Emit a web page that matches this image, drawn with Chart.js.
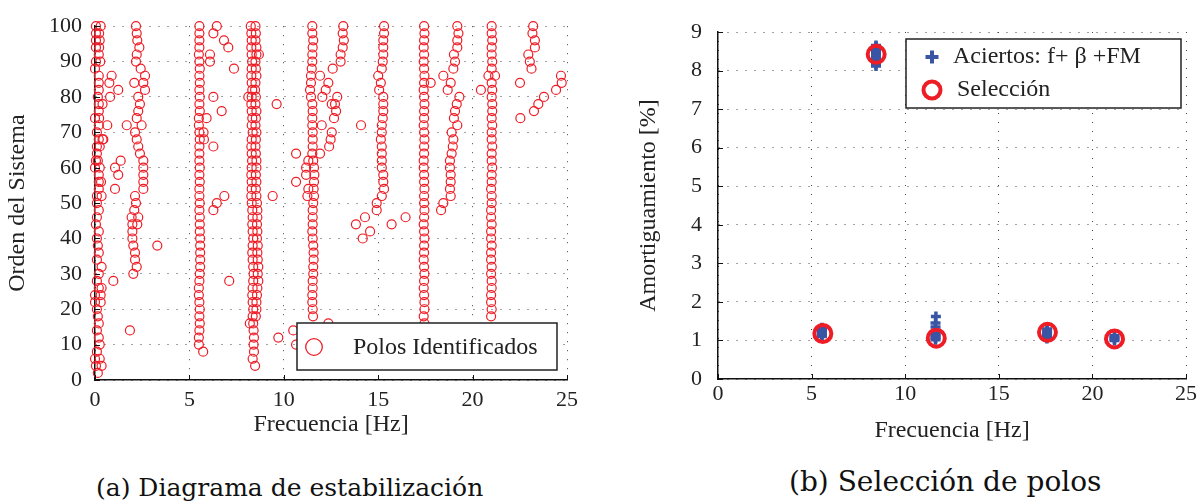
<!DOCTYPE html>
<html lang="es">
<head>
<meta charset="utf-8">
<title>Diagrama de estabilización y selección de polos</title>
<script src="https://cdn.jsdelivr.net/npm/chart.js@4.4.0/dist/chart.umd.min.js"></script>
<style>
  html, body { margin: 0; padding: 0; background: #fff; }
  body { width: 1203px; height: 502px; position: relative; overflow: hidden; }
  canvas { position: absolute; top: 0; }
  #estabilizacion { left: 0; }
  #seleccion { left: 600px; }
  .pie { position: absolute; font-family: "DejaVu Serif", serif; color: #111; white-space: nowrap; line-height: 30px; }
  #pieA { left: 96px; top: 473px; font-size: 25px; }
  #pieB { left: 789px; top: 467px; font-size: 28px; }
</style>
</head>
<body>
<canvas id="estabilizacion" width="600" height="460"></canvas>
<canvas id="seleccion" width="603" height="460"></canvas>
<div class="pie" id="pieA">(a) Diagrama de estabilización</div>
<div class="pie" id="pieB">(b) Selección de polos</div>
<script>
// Órdenes del sistema, de arriba a abajo
const ordenes = [100, 98, 96, 94, 92, 90, 88, 86, 84, 82, 80, 78, 76, 74, 72, 70, 68, 66, 64, 62,
  60, 58, 56, 54, 52, 50, 48, 46, 44, 42, 40, 38, 36, 34, 32, 30, 28, 26, 24, 22,
  20, 18, 16, 14, 12, 10, 8, 6, 4, 2];

// Frecuencia [Hz] de cada columna de polos, una por orden (null = no aparece)
const frecCero = [0.05, 0.05, 0.05, 0.05, 0.20, 0.05, 0.00, 0.20, 0.20, 0.20,
  0.15, 0.20, 0.20, 0.00, 0.20, 0.10, 0.20, 0.10, 0.10, 0.05,
  0.00, 0.20, 0.20, 0.20, 0.10, 0.10, 0.20, 0.10, 0.05, 0.20,
  0.10, 0.15, 0.20, 0.10, 0.35, 0.20, 0.10, 0.20, 0.00, 0.00,
  0.10, 0.15, 0.20, 0.10, 0.20, 0.25, 0.10, 0.00, 0.05, 0.15];
const frecCeroB = [0.30, 0.22, 0.25, 0.22, null, 0.28, null, null, null, null,
  null, 0.40, null, 0.22, null, null, 0.40, 0.25, null, 0.15,
  0.25, null, 0.32, null, 0.35, null, null, null, null, null,
  null, null, null, null, null, null, null, 0.35, 0.30, 0.30,
  null, null, null, null, null, null, null, 0.25, 0.35];
const frecModo2 = [2.17, 2.21, 2.24, 2.35, 2.21, 2.17, 2.42, 2.65, 2.56, 2.65,
  2.29, 2.38, 2.29, 2.21, 2.47, 2.12, 2.21, 2.29, 2.38, 2.56,
  2.56, 2.56, 2.56, 2.56, 2.12, 2.17, 2.08, 1.94, 1.98, 1.98,
  1.98, 2.03, 2.12, 2.12, 2.21, 2.03];
const frecModo5 = [5.53, 5.53, 5.53, 5.53, 5.50, 5.53, 5.55, 5.53, 5.55, 5.53,
  5.55, 5.53, 5.55, 5.50, 5.50, 5.53, 5.55, 5.53, 5.53, 5.53,
  5.55, 5.53, 5.55, 5.53, 5.53, 5.55, 5.53, 5.55, 5.55, 5.55,
  5.57, 5.57, 5.57, 5.57, 5.57, 5.55, 5.53, 5.50, 5.50, 5.53,
  5.55, 5.53, 5.55, 5.53, 5.50, 5.50, 5.73];
const frecModo8a = [8.25, 8.28, 8.30, 8.28, 8.30, 8.32, 8.30, 8.28, 8.30, 8.33,
  8.30, 8.28, 8.30, 8.33, 8.30, 8.35, 8.30, 8.28, 8.30, 8.32,
  8.30, 8.28, 8.30, 8.30, 8.28, 8.30, 8.33, 8.35, 8.33, 8.35,
  8.38, 8.35, 8.33, 8.35, 8.38, 8.40, 8.38, 8.35, 8.33, 8.35,
  8.38, 8.35, 8.38, 8.40, 8.42, 8.40, 8.42, 8.35, 8.48];
const frecModo8b = [8.50, 8.52, 8.50, 8.55, 8.55, 8.50, 8.52, 8.55, 8.50, 8.48,
  8.52, 8.50, 8.55, 8.52, 8.50, 8.55, 8.52, 8.50, 8.52, 8.55,
  8.55, 8.52, 8.55, 8.52, 8.55, 8.58, 8.60, 8.60, 8.58, 8.60,
  8.58, 8.62, 8.60, 8.62, 8.65, 8.62, 8.65, 8.60, 8.58, 8.55,
  8.55, 8.52];
const frecModo11 = [11.51, 11.51, 11.56, 11.53, 11.51, 11.51, 11.48, 11.44, 11.44, 11.39,
  11.44, 11.51, 11.53, 11.51, 11.51, 11.53, 11.53, 11.53, 11.51, 11.56,
  11.60, 11.62, 11.60, 11.58, 11.60, 11.56, 11.53, 11.53, 11.53, 11.51,
  11.53, 11.56, 11.58, 11.58, 11.56, 11.56, 11.53, 11.53, 11.51, 11.51,
  11.53, 11.55];
const frecModo13 = [13.15, 13.12, 13.18, 13.12, 13.01, 13.01, 12.59, null, 12.36, 12.22,
  12.83, 12.71, 12.77, 12.66, null, 12.54, 12.48, 12.40];
const frecModo15 = [15.31, 15.31, 15.27, 15.27, 15.27, 15.24, 15.19, 15.00, 15.14, 15.05,
  15.27, 15.27, 15.27, 15.24, 15.19, 15.19, 15.14, 15.19, 15.19, 15.19,
  15.19, 15.27, 15.27, 15.31, 15.19, 14.92, 14.92];
const frecModo17 = [17.43, 17.45, 17.43, 17.41, 17.43, 17.41, 17.43, 17.45, 17.43, 17.41,
  17.43, 17.45, 17.43, 17.43, 17.41, 17.43, 17.45, 17.43, 17.43, 17.41,
  17.41, 17.43, 17.43, 17.45, 17.43, 17.43, 17.45, 17.43, 17.41, 17.43,
  17.45, 17.43, 17.43, 17.41, 17.43, 17.45, 17.43, 17.41, 17.43, 17.45,
  17.45, 17.41, 17.45];
const frecModo19 = [19.19, 19.25, 19.19, 19.19, 19.01, 19.07, 18.98, 18.45, 18.84, 18.68,
  19.30, 19.16, 19.07, 19.01, 19.19, 18.89, 18.98, 18.95, 18.89, 18.80,
  18.80, 18.84, 18.84, 18.80, 18.84, 18.45, 18.33];
const frecModo21 = [21.01, 21.01, 21.04, 21.01, 21.01, 21.04, 21.01, 20.84, 21.01, 21.04,
  21.01, 21.04, 21.04, 21.01, 21.04, 21.01, 21.01, 21.04, 21.01, 21.01,
  21.04, 21.01, 21.01, 20.98, 21.01, 21.01, 20.98, 20.98, 21.01, 20.98,
  20.98, 21.01, 20.98, 20.98, 21.01, 20.98, 21.01, 21.01, 20.98, 20.98,
  21.01, 20.98];
const frecModo23 = [23.21, 23.17, 23.30, 23.30, 22.95, 23.03, 23.12];

// Polos sueltos [frecuencia, orden]
const polosSueltos = [
  [0.88, 86], [0.76, 84], [1.23, 82], [0.80, 80], [0.65, 72], [0.44, 68], [1.36, 62],
  [1.06, 60], [1.23, 58], [1.06, 54], [0.97, 28], [1.85, 14],
  [2.08, 84], [1.68, 72], [2.29, 46], [2.24, 44], [3.30, 38],
  [6.45, 100], [6.27, 98], [6.83, 96], [7.06, 94], [6.09, 92], [6.09, 90], [7.36, 88],
  [6.27, 80], [6.71, 76], [5.91, 74], [5.75, 70], [5.77, 68], [6.27, 66],
  [6.85, 52], [6.45, 50], [6.27, 48], [7.11, 28],
  [8.68, 92], [8.12, 80], [9.62, 78], [9.41, 52], [8.20, 16], [9.71, 12],
  [10.65, 64], [10.65, 56], [10.50, 14], [10.65, 10], [12.36, 16],
  [11.92, 86], [12.01, 72], [11.92, 64], [11.30, 62], [11.18, 60], [11.18, 58],
  [11.30, 54], [11.25, 52], [12.04, 80], [12.54, 78], [14.09, 72],
  [13.82, 44], [14.30, 46], [14.18, 40], [14.57, 42], [15.71, 44], [16.45, 46],
  [17.78, 84], [21.19, 86], [20.44, 82],
  [22.51, 84], [22.53, 74], [23.25, 76], [23.48, 78], [23.78, 80], [24.42, 82],
  [24.72, 84], [24.68, 86]
];

// Polos seleccionados: frecuencia [Hz] y amortiguamiento [%]
const frecSeleccion = [5.60, 8.45, 11.66, 17.60, 21.18];
const amortSeleccion = [1.18, 8.42, 1.06, 1.21, 1.04];

// Aciertos por frecuencia, amortiguamiento y forma modal
const frecAciertos = [5.55, 5.55, 5.55, 5.55, 5.55, 5.55, 5.55,
  8.44, 8.44, 8.44, 8.44, 8.44, 8.44, 8.44, 8.44, 8.44, 8.44, 8.44, 8.44,
  11.62, 11.62, 11.62, 11.62, 11.62, 11.62, 11.62, 11.62, 11.64,
  17.57, 17.57, 17.57, 17.58, 17.58, 17.58,
  21.18, 21.18, 21.18, 21.18];
const amortAciertos = [1.10, 1.14, 1.18, 1.22, 1.26, 1.30, 1.33,
  8.12, 8.17, 8.22, 8.27, 8.32, 8.37, 8.42, 8.47, 8.52, 8.57, 8.62, 8.65,
  1.02, 1.06, 1.10, 1.14, 1.18, 1.23, 1.35, 1.45, 1.62,
  1.05, 1.10, 1.15, 1.20, 1.25, 1.30,
  1.00, 1.04, 1.08, 1.12];

const ROJO = '#ee1c25';
const AZUL = '#3b55a5';
const fuente = "'Liberation Serif', 'Times New Roman', serif";

function columna(frecs) {
  const pts = [];
  frecs.forEach((f, i) => {
    if (f !== null) pts.push({ x: f, y: ordenes[i] });
  });
  return pts;
}

const polos = [frecCero, frecCeroB, frecModo2, frecModo5, frecModo8a, frecModo8b,
  frecModo11, frecModo13, frecModo15, frecModo17, frecModo19, frecModo21, frecModo23]
  .flatMap(columna)
  .concat(polosSueltos.map(p => ({ x: p[0], y: p[1] })));

function ejeX(altura, padTicks, padTitulo) {
  return {
    type: 'linear', min: 0, max: 25,
    afterFit: (eje) => { eje.height = altura; },
    ticks: { stepSize: 5, padding: padTicks, color: '#222', font: { family: fuente, size: 22 } },
    grid: { color: '#444', lineWidth: 1, drawTicks: false },
    border: { display: true, color: '#111', width: 1.5, dash: [1, 8] },
    title: { display: true, text: 'Frecuencia [Hz]', color: '#222',
      font: { family: fuente, size: 24 }, padding: { top: 0, bottom: padTitulo } }
  };
}

function ejeY(ancho, max, paso, padTicks, texto, padTitulo) {
  return {
    type: 'linear', min: 0, max: max,
    afterFit: (eje) => { eje.width = ancho; },
    ticks: { stepSize: paso, padding: padTicks, color: '#222', font: { family: fuente, size: 22 } },
    grid: { color: '#444', lineWidth: 1, drawTicks: false },
    border: { display: true, color: '#111', width: 1.5, dash: [1, 8] },
    title: { display: true, text: texto, color: '#222',
      font: { family: fuente, size: 24 }, padding: { top: padTitulo, bottom: 0 } }
  };
}

// Marcas cortas hacia dentro en los ejes
const marcasEje = {
  id: 'marcasEje',
  afterDatasetsDraw(chart) {
    const { ctx, chartArea, scales } = chart;
    ctx.save();
    ctx.strokeStyle = '#111';
    ctx.lineWidth = 1;
    ctx.beginPath();
    scales.x.ticks.forEach(t => {
      const px = Math.round(scales.x.getPixelForValue(t.value)) + 0.5;
      ctx.moveTo(px, chartArea.bottom);
      ctx.lineTo(px, chartArea.bottom - 5);
    });
    scales.y.ticks.forEach(t => {
      const py = Math.round(scales.y.getPixelForValue(t.value)) + 0.5;
      ctx.moveTo(chartArea.left, py);
      ctx.lineTo(chartArea.left + 5, py);
    });
    ctx.stroke();
    ctx.restore();
  }
};

// Leyenda dentro del área de dibujo
const leyendaPolos = {
  id: 'leyendaPolos',
  afterDraw(chart) {
    const { ctx, chartArea } = chart;
    const w = 260, h = 47;
    const x = chartArea.right - 10 - w, y = chartArea.bottom - 10 - h;
    ctx.save();
    ctx.fillStyle = '#fff';
    ctx.fillRect(x, y, w, h);
    ctx.strokeStyle = '#222';
    ctx.lineWidth = 1.5;
    ctx.strokeRect(x, y, w, h);
    ctx.strokeStyle = ROJO;
    ctx.lineWidth = 1.3;
    ctx.beginPath();
    ctx.arc(x + 17, y + 24, 8.3, 0, Math.PI * 2);
    ctx.stroke();
    ctx.fillStyle = '#222';
    ctx.font = '24px ' + fuente;
    ctx.textBaseline = 'middle';
    ctx.fillText('Polos Identificados', x + 56, y + 25);
    ctx.restore();
  }
};

const leyendaSeleccion = {
  id: 'leyendaSeleccion',
  afterDraw(chart) {
    const { ctx, chartArea } = chart;
    const w = 275, h = 69;
    const x = chartArea.right - 5 - w, y = chartArea.top + 7;
    ctx.save();
    ctx.fillStyle = '#fff';
    ctx.fillRect(x, y, w, h);
    ctx.strokeStyle = '#222';
    ctx.lineWidth = 1.5;
    ctx.strokeRect(x, y, w, h);
    // marcador de aciertos
    ctx.strokeStyle = AZUL;
    ctx.lineWidth = 4;
    ctx.beginPath();
    ctx.moveTo(x + 26 - 6.5, y + 18); ctx.lineTo(x + 26 + 6.5, y + 18);
    ctx.moveTo(x + 26, y + 18 - 6.5); ctx.lineTo(x + 26, y + 18 + 6.5);
    ctx.stroke();
    // marcador de selección
    ctx.strokeStyle = ROJO;
    ctx.lineWidth = 4;
    ctx.beginPath();
    ctx.arc(x + 26, y + 51, 8.5, 0, Math.PI * 2);
    ctx.stroke();
    ctx.fillStyle = '#222';
    ctx.font = '24px ' + fuente;
    ctx.textBaseline = 'middle';
    ctx.fillText('Aciertos: f+ β +FM', x + 47, y + 18);
    ctx.fillText('Selección', x + 51, y + 51);
    ctx.restore();
  }
};

new Chart(document.getElementById('estabilizacion'), {
  type: 'scatter',
  data: {
    datasets: [{
      label: 'Polos Identificados',
      data: polos,
      pointStyle: 'circle',
      pointRadius: 4.5,
      borderWidth: 1.2,
      borderColor: ROJO,
      backgroundColor: 'rgba(0,0,0,0)',
      clip: false
    }]
  },
  options: {
    responsive: false,
    animation: false,
    events: [],
    layout: { padding: { top: 19, right: 33, left: 0, bottom: 0 } },
    plugins: { legend: { display: false }, tooltip: { enabled: false } },
    scales: {
      x: ejeX(80, 7, 20.6),
      y: ejeY(95, 100, 10, 13, 'Orden del Sistema', 3.6)
    }
  },
  plugins: [marcasEje, leyendaPolos]
});

new Chart(document.getElementById('seleccion'), {
  type: 'scatter',
  data: {
    datasets: [{
      label: 'Aciertos: f+ β +FM',
      data: frecAciertos.map((f, i) => ({ x: f, y: amortAciertos[i] })),
      pointStyle: 'cross',
      pointRadius: 5,
      borderWidth: 3.5,
      borderColor: AZUL,
      backgroundColor: AZUL,
      clip: false,
      order: 1
    }, {
      label: 'Selección',
      data: frecSeleccion.map((f, i) => ({ x: f, y: amortSeleccion[i] })),
      pointStyle: 'circle',
      pointRadius: 8.5,
      borderWidth: 4,
      borderColor: ROJO,
      backgroundColor: 'rgba(0,0,0,0)',
      clip: false,
      order: 0
    }]
  },
  options: {
    responsive: false,
    animation: false,
    events: [],
    layout: { padding: { top: 32, right: 17, left: 0, bottom: 0 } },
    plugins: { legend: { display: false }, tooltip: { enabled: false } },
    scales: {
      x: ejeX(81, 2, 14.6),
      y: ejeY(118, 9, 1, 16, 'Amortiguamiento [%]', 34.6)
    }
  },
  plugins: [marcasEje, leyendaSeleccion]
});
</script>
</body>
</html>
